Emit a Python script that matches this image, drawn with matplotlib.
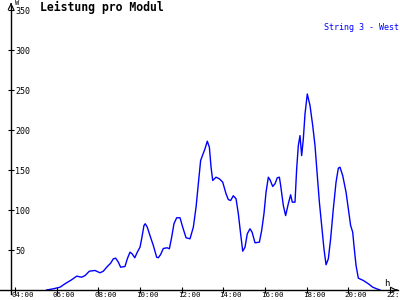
import numpy as np
import matplotlib
matplotlib.use('Agg')
import matplotlib.pyplot as plt
from matplotlib.transforms import ScaledTranslation

# Leistung pro Modul, String 3 - West (Stunden, Watt)
hours = [5.52, 5.84, 6.16, 6.40, 6.72, 6.96, 7.20, 7.36, 7.57, 7.84,
         8.08, 8.24, 8.40, 8.59, 8.72, 8.83, 8.96, 9.07, 9.28, 9.39,
         9.52, 9.62, 9.75, 9.87, 10.00, 10.08, 10.19, 10.25, 10.35, 10.48,
         10.64, 10.80, 10.88, 10.99, 11.12, 11.30, 11.41, 11.52, 11.63, 11.76,
         11.92, 12.05, 12.21, 12.40, 12.56, 12.69, 12.80, 12.91, 13.04, 13.12,
         13.23, 13.33, 13.41, 13.49, 13.65, 13.81, 13.97, 14.13, 14.24, 14.35,
         14.48, 14.61, 14.72, 14.83, 14.93, 15.04, 15.15, 15.28, 15.38, 15.52,
         15.73, 15.84, 15.95, 16.05, 16.16, 16.24, 16.37, 16.48, 16.59, 16.69,
         16.75, 16.88, 16.99, 17.12, 17.23, 17.31, 17.44, 17.52, 17.60, 17.68,
         17.76, 17.84, 17.92, 18.03, 18.16, 18.29, 18.40, 18.51, 18.61, 18.72,
         18.83, 18.93, 19.04, 19.15, 19.28, 19.41, 19.52, 19.60, 19.73, 19.89,
         20.00, 20.11, 20.21, 20.27, 20.37, 20.48, 20.72, 20.96, 21.17, 21.36,
         21.52]
watt = [0, 1.5, 3.5, 7.8, 12.8, 17.3, 16, 18, 23.5, 24.4,
        21.5, 23.5, 28.5, 33.5, 39, 39.8, 34.8, 28.5, 29.4, 39,
        47.3, 45.3, 40.3, 47.3, 53.5, 64, 80.6, 82.8, 78.5, 68,
        55.6, 41, 40.3, 44.4, 51.9, 52.8, 51.5, 66, 82.8, 90.3,
        90.3, 78.5, 65.3, 64, 78.5, 103.5, 132.8, 161.9, 171, 176.5,
        186, 178.5, 153.5, 136.9, 141, 139, 134.8, 120.3, 113, 111.9,
        117.8, 114, 95.3, 70.3, 48.5, 53.5, 70.3, 76.5, 72.3, 59,
        59.8, 74.4, 95.3, 122.3, 141, 137.8, 129.4, 132.8, 140.3, 141,
        131, 105.6, 93, 108, 119, 109.8, 109.8, 151.5, 180.6, 193,
        168, 189, 220, 245, 230.6, 205.6, 180.6, 143, 109.8, 80.6,
        51.5, 31.5, 39, 64, 101.5, 134.8, 152.3, 153.5, 143, 122.3,
        101.5, 80.6, 72.3, 55.6, 30.6, 14.8, 11.9, 7.8, 3.5, 1.5,
        0]

xticks = [4, 6, 8, 10, 12, 14, 16, 18, 20, 22]
xlabels = ['%02d:00' % t for t in xticks]
yticks = [50, 100, 150, 200, 250, 300, 350]

x_axis = 3.81  # Lage der y-Achse

fig = plt.figure(figsize=(4, 3), dpi=100)
ax = fig.add_axes([0, 0, 1, 1])
ax.set_xlim(3.28, 22.48)
ax.set_ylim(-12.5, 362.5)

ax.plot(hours, watt, color='#0000ff', lw=1.0)

for s in ['top', 'right']:
    ax.spines[s].set_visible(False)
ax.spines['left'].set_position(('data', x_axis))
ax.spines['bottom'].set_position(('data', 0))
ax.spines['left'].set_bounds(-5, 355)
ax.spines['bottom'].set_bounds(3.28, 22.4)
for s in ['left', 'bottom']:
    ax.spines[s].set_linewidth(1.0)

# Pfeile an den Achsenenden
ax.annotate('', xy=(22.48, 0), xytext=(22.2, 0),
            arrowprops=dict(arrowstyle='->', lw=0.8, color='black'))
ax.annotate('', xy=(x_axis, 362.5), xytext=(x_axis, 354),
            arrowprops=dict(arrowstyle='->', lw=0.8, color='black'))

mono = 'DejaVu Sans Mono'
ax.set_xticks(xticks)
ax.set_xticklabels(xlabels, family=mono, fontsize=5.4, ha='left')
ax.set_yticks(yticks)
ax.set_yticklabels([str(v) for v in yticks], family=mono, fontsize=6, ha='left')
ax.tick_params(axis='both', direction='inout', length=5, width=0.8)
ax.tick_params(axis='y', pad=-5.5)
ax.tick_params(axis='x', pad=-1.1)
off = ScaledTranslation(-4 / 100, 0, fig.dpi_scale_trans)
for lab in ax.get_xticklabels():
    lab.set_transform(lab.get_transform() + off)

fig.text(40 / 400, 1 - 7 / 300, 'Leistung pro Modul', family=mono,
         fontsize=8.3, fontweight='bold', va='center', ha='left')
fig.text(399 / 400, 1 - 28 / 300, 'String 3 - West', family=mono,
         fontsize=6, color='#0000ff', va='center', ha='right')
fig.text(15 / 400, 1 - 3 / 300, 'W', family=mono, fontsize=5,
         va='center', ha='left')
fig.text(384 / 400, 1 - 283 / 300, 'h', family=mono, fontsize=6.5,
         va='center', ha='left')

fig.savefig('out.png', dpi=100)
